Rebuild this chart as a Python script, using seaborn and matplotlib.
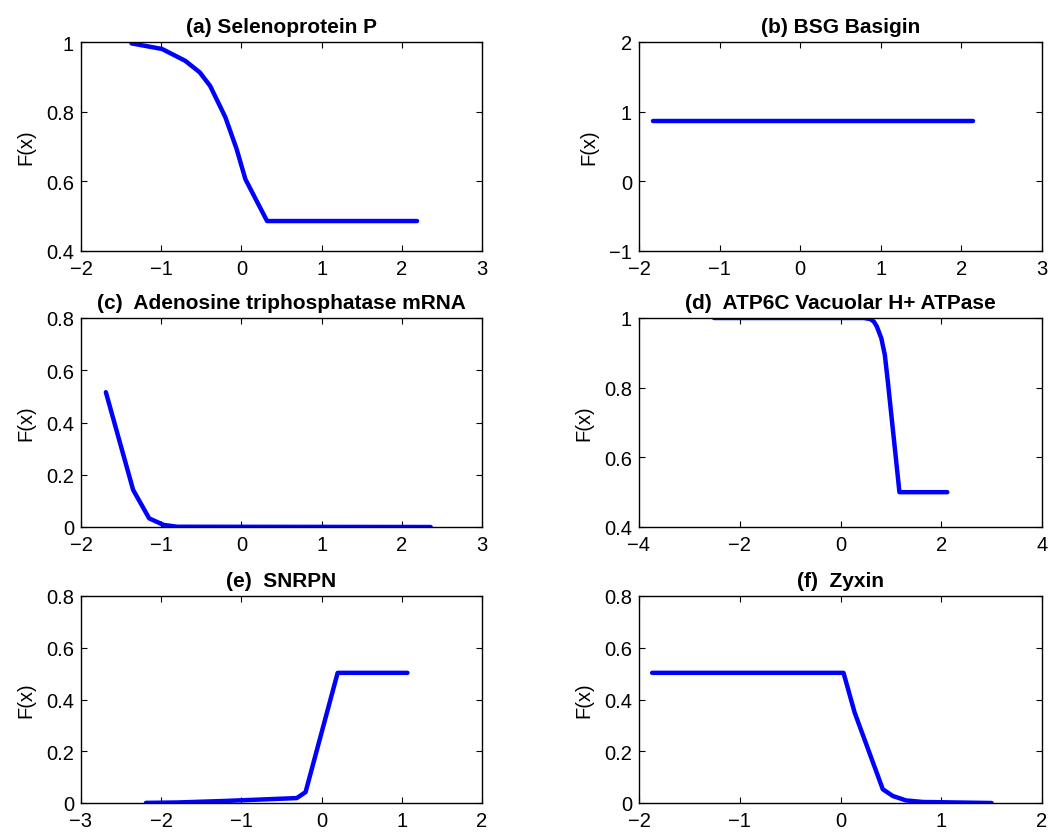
import matplotlib
matplotlib.use('Agg')
import matplotlib.pyplot as plt
import numpy as np
import pandas as pd
import seaborn as sns
from matplotlib.ticker import FuncFormatter

sns.set_theme(style='ticks')
plt.rcParams['font.family'] = ['Liberation Sans', 'DejaVu Sans']
plt.rcParams['text.color'] = 'black'
plt.rcParams['axes.labelcolor'] = 'black'

# curve values
a_x = [-1.37, -0.99, -0.70, -0.52, -0.39, -0.20, -0.06, 0.05, 0.32, 2.19]
a_y = [0.996, 0.980, 0.946, 0.913, 0.874, 0.784, 0.693, 0.606, 0.486, 0.486]

b_x = [-1.83, 2.14]
b_y = [0.862, 0.862]

c_x = [-1.69, -1.35, -1.15, -0.97, -0.80, 2.36]
c_y = [0.516, 0.142, 0.033, 0.008, 0.001, 0.0]

d_x = [-2.51, 0.46, 0.59, 0.66, 0.72, 0.81, 0.88, 0.94, 1.17, 2.12]
d_y = [1.0, 1.0, 0.997, 0.99, 0.976, 0.942, 0.894, 0.817, 0.5, 0.5]

e_x = [-2.19, -1.80, -1.20, -0.31, -0.20, 0.20, 1.07]
e_y = [0.0005, 0.002, 0.008, 0.019, 0.042, 0.503, 0.503]

f_x = [-1.87, 0.03, 0.14, 0.42, 0.52, 0.65, 0.82, 1.50]
f_y = [0.503, 0.503, 0.35, 0.053, 0.027, 0.010, 0.004, 0.0]

titles = ['(a) Selenoprotein P', '(b) BSG Basigin',
          '(c)  Adenosine triphosphatase mRNA', '(d)  ATP6C Vacuolar H+ ATPase',
          '(e)  SNRPN', '(f)  Zyxin']
xlims = [(-2, 3), (-2, 3), (-2, 3), (-4, 4), (-3, 2), (-2, 2)]
ylims = [(0.4, 1), (-1, 2), (0, 0.8), (0.4, 1), (0, 0.8), (0, 0.8)]
xsteps = [1, 1, 1, 2, 1, 1]
ysteps = [0.2, 1, 0.2, 0.2, 0.2, 0.2]

curves = [(a_x, a_y), (b_x, b_y), (c_x, c_y), (d_x, d_y), (e_x, e_y), (f_x, f_y)]

fig = plt.figure(figsize=(10.58, 8.37), dpi=100)

# axes boxes in pixels (left, right) / (top, bottom)
W, H = 1058, 837
cols = [(81, 482), (639, 1042)]
rows = [(43, 252), (319, 528), (597, 804)]


def tick_fmt(v, pos):
    # MATLAB-like labels: 1, 0.8, 0, with a long minus
    return ('%g' % round(v, 6)).replace('-', '\u2212')


fmt = FuncFormatter(tick_fmt)

for i, ((xs, ys), title) in enumerate(zip(curves, titles)):
    r, c = divmod(i, 2)
    l, rr = cols[c]
    t, b = rows[r]
    ax = fig.add_axes([l / W, 1 - b / H, (rr - l) / W, (b - t) / H])
    df = pd.DataFrame({'x': xs, 'y': ys})
    sns.lineplot(data=df, x='x', y='y', ax=ax, color='#0000ff', linewidth=3.2,
                 sort=False, estimator=None)
    x0, x1 = xlims[i]
    y0, y1 = ylims[i]
    ax.set_xlim(x0, x1)
    ax.set_ylim(y0, y1)
    ax.set_xticks(np.arange(x0, x1 + 1e-9, xsteps[i]))
    ax.set_yticks(np.arange(y0, y1 + 1e-9, ysteps[i]))
    ax.xaxis.set_major_formatter(fmt)
    ax.yaxis.set_major_formatter(fmt)
    ax.tick_params(direction='in', length=4, width=0.8, top=True, right=True,
                   labelsize=14.5, colors='black', pad=5)
    ax.tick_params(axis='x', pad=6)
    for s in ax.spines.values():
        s.set_visible(True)
        s.set_linewidth(1.0)
        s.set_color('black')
    ax.set_title(title, fontsize=15, fontweight='bold', pad=7, color='black')
    ax.set_xlabel('')
    ax.set_ylabel('F(x)', fontsize=14.5, labelpad=8)

fig.savefig('out.png', dpi=100)
